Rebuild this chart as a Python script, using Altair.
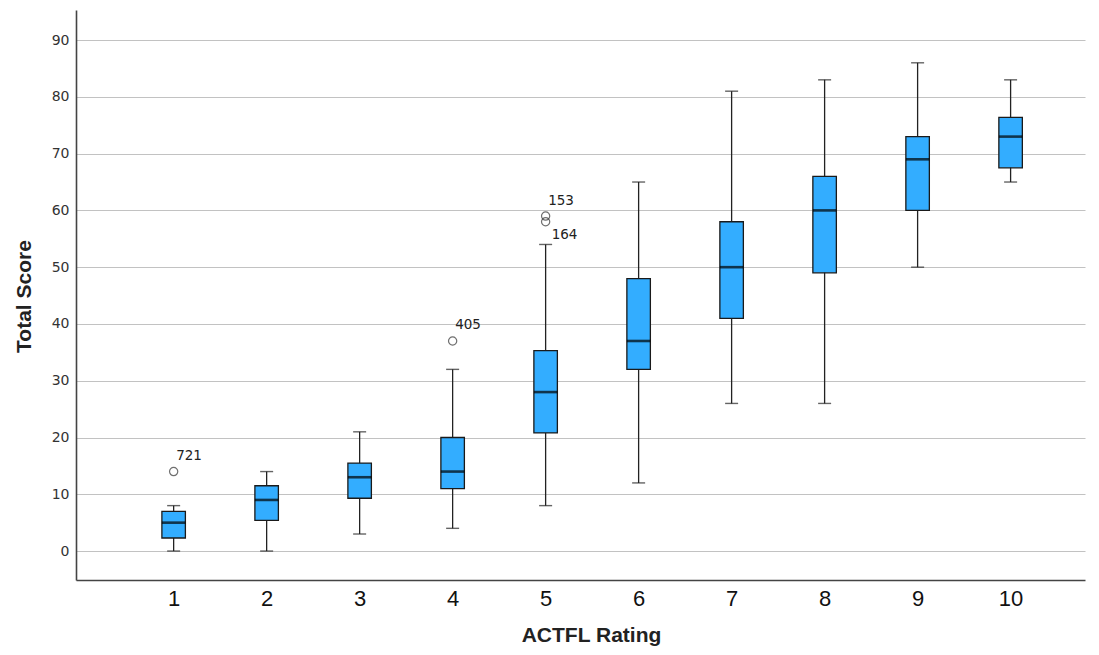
import altair as alt
import pandas as pd

ratings = [1, 2, 3, 4, 5, 6, 7, 8, 9, 10]
whisker_low = [0, 0, 3, 4, 8, 12, 26, 26, 50, 65]
q1 = [2.3, 5.4, 9.3, 11, 20.8, 32, 41, 49, 60, 67.5]
median = [5, 9, 13, 14, 28, 37, 50, 60, 69, 73]
q3 = [7, 11.5, 15.5, 20, 35.3, 48, 58, 66, 73, 76.4]
whisker_high = [8, 14, 21, 32, 54, 65, 81, 83, 86, 83]

out_rating = [1, 4, 5, 5]
out_value = [14, 37, 59, 58]
out_label = ["721", "405", "153", "164"]
out_side = ["above", "above", "above", "below"]

box = pd.DataFrame({"rating": ratings, "lo": whisker_low, "q1": q1,
                    "med": median, "q3": q3, "hi": whisker_high})
outl = pd.DataFrame({"rating": out_rating, "value": out_value,
                     "label": out_label, "side": out_side})

FONT = "DejaVu Sans"
SANS = "Liberation Sans"

xscale = alt.Scale(domain=[-0.05, 10.8], nice=False, zero=False, padding=0)
yscale = alt.Scale(domain=[-5.1, 95.3], nice=False, zero=False, padding=0)

xax = alt.Axis(values=ratings, format="d", grid=False, ticks=False,
               labelFontSize=22, labelFont=SANS, labelColor="#111",
               labelPadding=8, domainColor="#444", domainWidth=1.6,
               title="ACTFL Rating", titleFont=SANS, titleFontSize=21,
               titleFontWeight="bold", titleColor="#222",
               titleX=515, titleY=61.5, titleBaseline="alphabetic")
yax = alt.Axis(values=list(range(0, 91, 10)), grid=True, gridColor="#c2c2c2",
               gridWidth=1.2, ticks=False, labelFontSize=14, labelFont=FONT,
               labelColor="#333", labelPadding=7, domainColor="#444",
               domainWidth=1.6, title="Total Score", titleFont=SANS,
               titleFontSize=21, titleFontWeight="bold", titleColor="#222",
               titleAngle=270, titleX=-45.5, titleY=286,
               titleBaseline="alphabetic")

base = alt.Chart(box)

whisk = base.mark_rule(color="#222", strokeWidth=1.3).encode(
    x=alt.X("rating:Q", scale=xscale, axis=xax),
    y=alt.Y("lo:Q", scale=yscale, axis=yax),
    y2="hi:Q",
)
cap_lo = base.mark_tick(color="#222", size=13, thickness=1.4, orient="horizontal").encode(
    x="rating:Q", y="lo:Q")
cap_hi = base.mark_tick(color="#222", size=13, thickness=1.4, orient="horizontal").encode(
    x="rating:Q", y="hi:Q")
bars = base.mark_bar(size=23.5, color="#33adff", stroke="#1a1a1a", strokeWidth=1.3).encode(
    x="rating:Q", y="q1:Q", y2="q3:Q")
med = base.mark_tick(color="#000", size=23.5, thickness=2.6, orient="horizontal").encode(
    x="rating:Q", y="med:Q")

pts = alt.Chart(outl).mark_point(shape="circle", filled=False, size=68,
                                 color="#333", strokeWidth=1.2).encode(
    x="rating:Q", y="value:Q")
lab_above = alt.Chart(outl).transform_filter(alt.datum.side == "above").mark_text(
    align="left", baseline="middle", dx=2.5, dy=-15.5, fontSize=13.5, font=FONT,
    color="#222").encode(x="rating:Q", y="value:Q", text="label:N")
lab_below = alt.Chart(outl).transform_filter(alt.datum.side == "below").mark_text(
    align="left", baseline="middle", dx=6, dy=13.6, fontSize=13.5, font=FONT,
    color="#222").encode(x="rating:Q", y="value:Q", text="label:N")

chart = alt.layer(whisk, cap_lo, cap_hi, bars, med, pts, lab_above, lab_below).properties(
    width=1009, height=570,
    autosize=alt.AutoSizeParams(type="none"),
    padding={"left": 68, "top": 2, "right": 6, "bottom": 66},
).configure(background="white").configure_view(stroke=None)

chart.save("out.html", embed_options={"renderer": "svg", "actions": False})
